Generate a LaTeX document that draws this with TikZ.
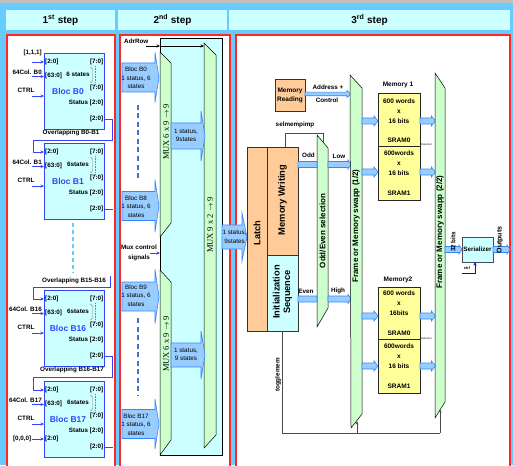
\documentclass[tikz,border=0pt]{standalone}
\usepackage{fontspec}
\setmainfont{Liberation Sans}
\newfontfamily\muxfont{Liberation Serif}
\usetikzlibrary{arrows.meta}
\definecolor{bgblue}{RGB}{102,204,255}
\definecolor{cyanl}{RGB}{204,255,255}
\definecolor{panelred}{RGB}{255,40,40}
\definecolor{blocblue}{RGB}{51,68,255}
\definecolor{arrfill}{RGB}{153,204,255}
\definecolor{arrdraw}{RGB}{51,136,255}
\definecolor{dashblue}{RGB}{68,114,196}
\definecolor{muxgreen}{RGB}{204,255,204}
\definecolor{orangel}{RGB}{255,204,153}
\definecolor{yellowl}{RGB}{255,255,153}
\tikzset{
 hdr/.style={fill=cyanl, minimum height=20pt, inner sep=0pt, font=\fontsize{10}{11}\selectfont\bfseries},
 panel/.style={fill=white, draw=panelred, line width=1.1pt},
 blocbox/.style={draw=blocblue, fill=cyanl, line width=0.8pt, minimum width=60pt, minimum height=76pt, anchor=north west, inner sep=0pt},
 lbl/.style={font=\fontsize{6.3}{7}\selectfont\bfseries, inner sep=0pt},
 tiny/.style={font=\fontsize{2.6}{3}\selectfont, inner sep=0pt},
 blocname/.style={font=\fontsize{8.5}{9}\selectfont\bfseries, text=blocblue, inner sep=0pt},
 inarr/.style={draw=blocblue, line width=0.7pt, -{Stealth[length=3.5pt,width=3pt]}},
 blocline/.style={draw=blocblue, line width=0.7pt},
 lbdash/.style={draw=bgblue, line width=1.3pt, dash pattern=on 4pt off 3pt},
 bdash/.style={draw=dashblue, line width=2.2pt, dash pattern=on 5pt off 3.5pt},
 barrow/.style={draw=arrdraw, fill=arrfill, line width=0.6pt},
 arrtxt/.style={font=\fontsize{6.3}{8.5}\selectfont, inner sep=0pt, align=center},
 muxshape/.style={draw=black, fill=muxgreen, line width=0.5pt},
 muxlbl/.style={font=\muxfont\fontsize{8.5}{9}\selectfont, rotate=90, inner sep=0pt},
 tbig/.style={font=\fontsize{9.3}{10.5}\selectfont\bfseries, rotate=90, inner sep=0pt, align=center},
 tmid/.style={font=\fontsize{8}{9}\selectfont\bfseries, rotate=90, inner sep=0pt},
 obox/.style={draw=black!80, fill=orangel, line width=0.6pt},
 sram/.style={draw=black!85, fill=yellowl, line width=1.2pt, minimum width=42pt, inner sep=0pt, anchor=north west},
 sramtxt/.style={font=\fontsize{6.5}{10}\selectfont\bfseries, inner sep=0pt, align=center},
 ctl/.style={draw=black!70, line width=0.6pt},
 ctlarr/.style={ctl, -{Stealth[length=3.5pt,width=3pt]}},
}
% block arrow: x1, x2(tip), centre y, body half height, head half height, head length
\newcommand{\myarrow}[6]{\filldraw[barrow] (#1,#3-#4) -- (#2-#6,#3-#4) -- (#2-#6,#3-#5) -- (#2,#3) -- (#2-#6,#3+#5) -- (#2-#6,#3+#4) -- (#1,#3+#4) -- cycle;}
% bloc of step 1: name, top, title, column label, states text
\newcommand{\mybloc}[5]{%
  \node[blocbox] (#1) at (44,#2) {};
  \node[lbl,anchor=west] at (45,#2+9) {[2:0]};
  \node[lbl,anchor=east] at (103.5,#2+9) {[7:0]};
  \node[lbl,anchor=west] at (45,#2+23) {[63:0]};
  \node[lbl] at (78,#2+21) {#5};
  \node[lbl,anchor=east] at (103.5,#2+35) {[7:0]};
  \draw[gray, line width=0.4pt] (90.5,#2+14) -- (92.5,#2+16) -- (92.5,#2+28) -- (90.5,#2+30);
  \draw[gray, densely dotted, line width=0.6pt] (95.5,#2+13) -- (95.5,#2+31);
  \node[blocname] at (68,#2+38) {#3};
  \node[lbl,anchor=east] at (103.5,#2+50) {Status [2:0]};
  \node[lbl,anchor=east] at (103.5,#2+66) {[2:0]};
  \node[lbl,anchor=base east] at (42,#2+21.5) {#4};
  \draw[inarr] (32,#2+23.5) -- (44,#2+23.5);
  \node[lbl] at (26,#2+37) {CTRL};
  \draw[inarr] (32,#2+43) -- (44,#2+43);
}
\begin{document}
\begin{tikzpicture}[x=1pt,y=-1pt]
\useasboundingbox (0,0) rectangle (513,465);
\fill[bgblue] (0,0) rectangle (513,465);
\fill[gray!50] (0,0) rectangle (513,3.5);
% headers
\node[hdr, minimum width=109pt] (h1) at (60.5,20) {1\textsuperscript{st} step};
\node[hdr, minimum width=109pt] (h2) at (172.5,20) {2\textsuperscript{nd} step};
\node[hdr, minimum width=281pt] (h3) at (369.5,20) {3\textsuperscript{rd} step};
% panels
\draw[panel] (7,35) rectangle (115,470);
\draw[panel] (120,35) rectangle (230,470);
\draw[panel] (236,35) rectangle (510,470);

% ---------------- step 1
\mybloc{b0}{53}{Bloc B0}{64Col. B0}{6 states}
\mybloc{b1}{143}{Bloc B1}{64Col. B1}{6states}
\mybloc{b16}{290}{Bloc B16}{64Col. B16}{6states}
\mybloc{b17}{381}{Bloc B17}{64Col. B17}{6states}
\node[lbl,anchor=east] (in111) at (42,53) {[1,1,1]};
\draw[inarr] (32,62) -- (44,62);
\node[lbl,anchor=east] (in000) at (31.5,439) {[0,0,0]};
\draw[inarr] (in000.east) -- (44,439);
\node[lbl,anchor=west] at (45,439) {[2:0]};
% overlapping links
\node[lbl] (ov1) at (71,133) {Overlapping B0-B1};
\draw[blocline] (104,119) -- (112,119) -- (112,140) -- (33,140) -- (33,152);
\draw[inarr] (33,152) -- (44,152);
\draw[blocline] (104,209) -- (113,209);
\draw[lbdash] (73,223) -- (73,273);
\node[lbl] (ov2) at (74,281) {Overlapping B15-B16};
\draw[blocline] (110,276) -- (110,287) -- (33,287) -- (33,299);
\draw[inarr] (33,299) -- (44,299);
\node[lbl] (ov3) at (72,370) {Overlapping B16-B17};
\draw[blocline] (104,356) -- (112,356) -- (112,377) -- (33,377) -- (33,390);
\draw[inarr] (33,390) -- (44,390);
\draw[blocline] (104,447) -- (113,447);

% ---------------- step 2
\draw[fill=cyanl, line width=0.5pt] (160,38) rectangle (222,455);
\filldraw[muxshape] (160,52) -- (171,63) -- (171,223) -- (160,237) -- cycle;
\filldraw[muxshape] (160,270) -- (171,282) -- (171,440) -- (160,455) -- cycle;
\filldraw[muxshape] (204,43) -- (216,55) -- (216,435) -- (204,448) -- cycle;
\node[muxlbl] (mux1) at (166,132) {MUX 6 x 9 $\rightarrow$ 9};
\node[muxlbl] (mux1b) at (166,344) {MUX 6 x 9 $\rightarrow$ 9};
\node[muxlbl] (mux2) at (210,225) {MUX 9 x 2 $\rightarrow$ 9};
\node[lbl,anchor=west] (adr) at (124,41) {AdrRow};
\draw[inarr, draw=black] (146,46) -- (160,46);
\draw[inarr, draw=black] (160,46) -- (204,46);
\myarrow{122}{159}{77.5}{14.5}{25}{4}
\node[arrtxt] at (136,78) {Bloc B0\\1 status, 6\\states};
\myarrow{122}{159}{206}{14.5}{26}{4}
\node[arrtxt] at (136,206.5) {Bloc B8\\1 status, 6\\states};
\myarrow{122}{159}{296.5}{14.5}{27}{4}
\node[arrtxt] at (136,295.5) {Bloc B9\\1 status, 6\\states};
\myarrow{122}{159}{424}{14.5}{25}{4}
\node[arrtxt] at (136,424.5) {Bloc B17\\1 status, 6\\states};
\draw[bdash] (138,105) -- (138,180);
\draw[bdash] (138,318) -- (138,395);
\node[lbl,align=center,font=\fontsize{6.3}{10}\selectfont\bfseries] (muxc) at (139,253) {Mux control\\signals};
\draw[inarr] (150,253) -- (160,253);
\myarrow{171}{205}{136}{13}{25}{4}
\node[arrtxt] at (186,135.5) {1 status,\\9states};
\myarrow{171}{205}{355}{12}{24}{4}
\node[arrtxt] at (186,354.5) {1 status,\\9 states};
\myarrow{222}{247}{237}{12}{24}{5}
\node[arrtxt] at (234.5,237) {1 status,\\9states};

% ---------------- step 3
\filldraw[obox] (247,147) rectangle (267,331);
\node[tbig] (latch) at (257,233) {Latch};
\filldraw[obox] (267,147) rectangle (298,255);
\node[tbig] (memw) at (282.5,200) {Memory Writing};
\filldraw[obox, fill=cyanl] (267,255) rectangle (298,331);
\node[tbig] (init) at (282.5,292) {Initialization\\Sequence};
\filldraw[muxshape] (317,135) -- (328,148) -- (328,308) -- (317,327) -- cycle;
\node[tmid] (oddeven) at (322.5,231) {Odd/Even selection};
\node[lbl] (selm) at (295,125) {selmempimp};
\draw[ctl] (285,147) -- (285,133) -- (323,133) -- (323,142);
\node[lbl] (odd) at (308.5,155) {Odd};
\myarrow{298}{317}{164.5}{3}{3}{0.01}
\node[lbl] (low) at (339,156) {Low};
\myarrow{328}{351}{164.5}{3}{4.5}{3}
\node[lbl] (even) at (306,291) {Even};
\myarrow{298}{317}{299}{3}{3}{0.01}
\node[lbl] (high) at (338,291) {High};
\myarrow{328}{351}{299}{3}{4.5}{3}
% memory reading
\filldraw[obox] (275,79) rectangle (305,111);
\node[lbl,align=center,font=\fontsize{6.5}{9}\selectfont\bfseries] (memr) at (290,95) {Memory\\Reading};
\myarrow{305}{351}{94}{1.8}{3.5}{4}
\node[lbl] (addr) at (328,87) {Address +};
\node[lbl] (ctrl) at (327,100.5) {Control};
% frame swap trapezoids
\filldraw[muxshape] (350,75) -- (362,88) -- (362,414) -- (351,428) -- cycle;
\node[tmid] (fs1) at (356,226) {Frame or Memory swapp (1/2)};
% memory 1
\node[lbl,font=\fontsize{6.5}{7}\selectfont\bfseries] (mem1) at (398,85) {Memory 1};
\node[sram, minimum height=53pt] (m1a) at (378,93) {};
\node[sram, minimum height=54pt] (m1b) at (378,146) {};
\node[sramtxt] at (399,111) {600 words\\x\\16 bits};
\node[sramtxt] at (399,140) {SRAM0};
\node[sramtxt] at (399,163.5) {600words\\x\\16 bits};
\node[sramtxt] at (399,193) {SRAM1};
% memory 2
\node[lbl,font=\fontsize{6.5}{7}\selectfont\bfseries] (mem2) at (398,280) {Memory2};
\node[sram, minimum height=52pt] (m2a) at (378,287) {};
\node[sram, minimum height=54pt] (m2b) at (378,339) {};
\node[sramtxt] at (399,303) {600 words\\x\\16bits};
\node[sramtxt] at (399,333) {SRAM0};
\node[sramtxt] at (399,356) {600words\\x\\16 bits};
\node[sramtxt] at (399,386) {SRAM1};
\node[tiny,anchor=west] at (421,144.5) {Data Out};
\node[tiny,anchor=west] at (421,338.5) {Data Out};
% arrows to / from SRAMs
\myarrow{362}{378}{121}{3}{5}{4}
\myarrow{362}{378}{172}{3}{5}{4}
\myarrow{362}{378}{316}{3}{5}{4}
\myarrow{362}{378}{366}{3}{5}{4}
\myarrow{420}{435.5}{121}{3}{5}{4}
\myarrow{420}{435.5}{172}{3}{5}{4}
\myarrow{420}{435.5}{316}{3}{5}{4}
\myarrow{420}{435.5}{366}{3}{5}{4}
\filldraw[muxshape] (435,73) -- (445,88) -- (445,402) -- (435,418) -- cycle;
\node[tmid] (fs2) at (440,232) {Frame or Memory swapp (2/2)};
% togglemem
\node[lbl,rotate=90] (tog) at (278,375) {togglemem};
\draw[ctl] (282,331) -- (282,433) -- (440,433);
\draw[ctlarr] (440,433) -- (440,409);
\draw[ctlarr] (357,433) -- (357,421);
% serializer
\myarrow{445}{462}{249.5}{3}{4.5}{3}
\node[lbl,rotate=90] (b32) at (453,242) {32 bits};
\node[draw=black!70, fill=cyanl, minimum width=31pt, minimum height=25pt, inner sep=0pt, font=\fontsize{6.3}{7}\selectfont\bfseries] (ser) at (477.5,249.5) {Serializer};
\node[lbl,font=\fontsize{4}{5}\selectfont\bfseries] (ctl) at (467,268) {ctrl};
\draw[inarr, draw=blue] (462,273) -- (475,273) -- (475,262);
\myarrow{493}{510}{249.5}{3}{4.5}{3}
\node[lbl,rotate=90,font=\fontsize{7}{8}\selectfont\bfseries] (outs) at (500,240) {Outputs};
\end{tikzpicture}
\end{document}
